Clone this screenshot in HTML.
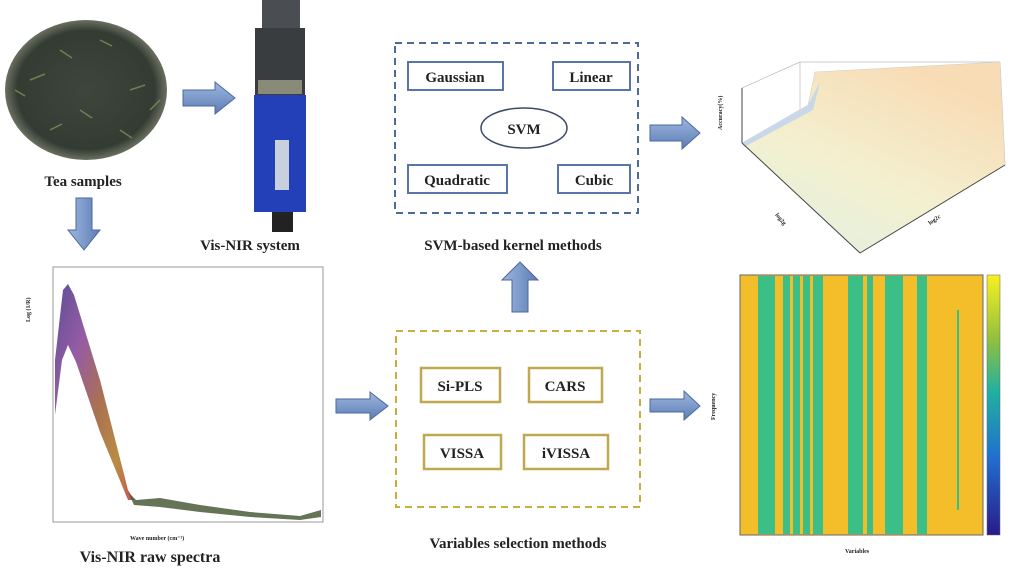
<!DOCTYPE html>
<html><head><meta charset="utf-8"><style>
html,body{margin:0;padding:0;background:#fff;}
svg{display:block;}
text{font-family:"Liberation Serif",serif;font-weight:bold;fill:#222;}
</style></head><body>
<svg width="1024" height="573" viewBox="0 0 1024 573" xmlns="http://www.w3.org/2000/svg">
<defs>
<radialGradient id="tea" cx="50%" cy="50%" r="50%">
<stop offset="0" stop-color="#3e463c"/><stop offset="0.85" stop-color="#343b33"/><stop offset="1" stop-color="#6a7060"/>
</radialGradient>
<linearGradient id="arr" x1="0" y1="0" x2="0" y2="1">
<stop offset="0" stop-color="#9fb6dc"/><stop offset="0.5" stop-color="#7d9acb"/><stop offset="1" stop-color="#5d7bb0"/>
</linearGradient>
<linearGradient id="arrv" x1="0" y1="0" x2="1" y2="0">
<stop offset="0" stop-color="#9fb6dc"/><stop offset="0.5" stop-color="#7d9acb"/><stop offset="1" stop-color="#5d7bb0"/>
</linearGradient>
<linearGradient id="surf" x1="0" y1="1" x2="0.6" y2="0">
<stop offset="0" stop-color="#dff0e6"/><stop offset="0.5" stop-color="#f3f0cf"/><stop offset="1" stop-color="#f8dcb6"/>
</linearGradient>
<linearGradient id="cbar" x1="0" y1="1" x2="0" y2="0">
<stop offset="0" stop-color="#2a1a8a"/><stop offset="0.3" stop-color="#2070d0"/><stop offset="0.55" stop-color="#20b0a0"/><stop offset="0.75" stop-color="#90c040"/><stop offset="1" stop-color="#f8f020"/>
</linearGradient>
<linearGradient id="spec" x1="0" y1="0" x2="1" y2="1">
<stop offset="0" stop-color="#4a3a8a"/><stop offset="0.3" stop-color="#8a4a9a"/><stop offset="0.55" stop-color="#a06040"/><stop offset="0.8" stop-color="#b08030"/><stop offset="1" stop-color="#c04040"/>
</linearGradient>
</defs>

<!-- Tea samples -->
<ellipse cx="86" cy="90" rx="81" ry="70" fill="url(#tea)"/>
<g stroke="#8a9a60" stroke-width="1.5" opacity="0.7">
<line x1="30" y1="80" x2="45" y2="74"/><line x1="60" y1="50" x2="72" y2="58"/><line x1="100" y1="40" x2="112" y2="46"/>
<line x1="130" y1="90" x2="145" y2="85"/><line x1="80" y1="110" x2="92" y2="118"/><line x1="50" y1="130" x2="62" y2="124"/>
<line x1="120" y1="130" x2="132" y2="138"/><line x1="15" y1="90" x2="25" y2="96"/><line x1="150" y1="110" x2="160" y2="100"/>
</g>
<text x="83" y="186" font-size="15" text-anchor="middle">Tea samples</text>

<!-- Vis-NIR device -->
<rect x="262" y="0" width="38" height="30" fill="#4a4e52"/>
<rect x="255" y="28" width="50" height="67" fill="#3a3d40"/>
<rect x="258" y="80" width="44" height="14" fill="#8a8a78"/>
<rect x="254" y="95" width="52" height="117" fill="#2440b8"/>
<rect x="275" y="140" width="14" height="50" fill="#c8d0e0"/>
<rect x="272" y="212" width="21" height="20" fill="#222"/>
<text x="250" y="250" font-size="15" text-anchor="middle">Vis-NIR system</text>

<!-- Arrows -->
<g fill="url(#arr)" stroke="#4a6aa0" stroke-width="1">
<polygon points="183,90 215,90 215,82 235,98 215,114 215,106 183,106"/>
<polygon points="336,399 370,399 370,392 388,406 370,420 370,413 336,413"/>
<polygon points="650,399 684,399 684,391 700,406 684,420 684,412 650,412"/>
<polygon points="650,125 682,125 682,117 700,133 682,149 682,141 650,141"/>
</g>
<g fill="url(#arrv)" stroke="#4a6aa0" stroke-width="1">
<polygon points="76,198 92,198 92,230 100,230 84,250 68,230 76,230"/>
<polygon points="512,312 528,312 528,280 538,280 520,262 502,280 512,280"/>
</g>

<!-- SVM box -->
<rect x="395" y="43" width="243" height="170" fill="none" stroke="#4d6a98" stroke-width="2" stroke-dasharray="7,5"/>
<g fill="#fff" stroke="#5874a8" stroke-width="2">
<rect x="408" y="62" width="95" height="28"/><rect x="553" y="62" width="77" height="28"/>
<rect x="408" y="165" width="99" height="28"/><rect x="558" y="165" width="72" height="28"/>
<ellipse cx="524" cy="128" rx="43" ry="20" stroke="#3a4a6a" stroke-width="1.5"/>
</g>
<text x="455" y="82" font-size="15" text-anchor="middle">Gaussian</text>
<text x="591" y="82" font-size="15" text-anchor="middle">Linear</text>
<text x="524" y="134" font-size="15" text-anchor="middle">SVM</text>
<text x="457" y="185" font-size="15" text-anchor="middle">Quadratic</text>
<text x="594" y="185" font-size="15" text-anchor="middle">Cubic</text>
<text x="513" y="250" font-size="15" text-anchor="middle">SVM-based kernel methods</text>

<!-- Variable selection box -->
<rect x="396" y="331" width="244" height="176" fill="none" stroke="#c8b040" stroke-width="2" stroke-dasharray="7,5"/>
<g fill="#fff" stroke="#c0a850" stroke-width="2.5">
<rect x="421" y="368" width="79" height="34"/><rect x="529" y="368" width="73" height="34"/>
<rect x="424" y="435" width="77" height="34"/><rect x="524" y="435" width="84" height="34"/>
</g>
<text x="460" y="391" font-size="15" text-anchor="middle">Si-PLS</text>
<text x="565" y="391" font-size="15" text-anchor="middle">CARS</text>
<text x="462" y="458" font-size="15" text-anchor="middle">VISSA</text>
<text x="566" y="458" font-size="15" text-anchor="middle">iVISSA</text>
<text x="518" y="548" font-size="15" text-anchor="middle">Variables selection methods</text>

<!-- Spectra -->
<rect x="53" y="267" width="270" height="255" fill="#fff" stroke="#999" stroke-width="1"/>
<path d="M55,360 L63,290 L68,284 L74,295 L100,380 L128,490 L134,500 L128,500 L100,432 L76,362 L68,345 L62,360 L55,415 Z" fill="url(#spec)" opacity="0.9"/>
<path d="M128,492 L136,500 L160,498 L200,505 L250,512 L300,516 L321,510 L321,517 L300,520 L250,517 L200,512 L160,507 L134,505 Z" fill="#4a5a3a" opacity="0.85"/>
<g font-size="5" fill="#666" font-weight="normal">
<text x="30" y="322" font-size="6" transform="rotate(-90 30 322)">Log (1/R)</text>
<text x="130" y="540" font-size="6">Wave number (cm⁻¹)</text>
</g>
<text x="150" y="562" font-size="16" text-anchor="middle">Vis-NIR raw spectra</text>

<!-- 3D surface -->
<g stroke="#bbb" stroke-width="0.7" fill="none">
<line x1="742" y1="88" x2="742" y2="143"/><line x1="742" y1="88" x2="800" y2="62"/><line x1="800" y1="62" x2="800" y2="118"/>
<line x1="800" y1="62" x2="1000" y2="62"/><line x1="1000" y1="62" x2="1005" y2="165"/>
</g>
<polygon points="742,143 808,105 815,72 1000,62 1005,165 860,253" fill="url(#surf)" stroke="#ccc" stroke-width="0.5"/>
<polygon points="742,143 808,105 820,82 813,110 746,146" fill="#c8d8e8"/>
<line x1="742" y1="143" x2="860" y2="253" stroke="#444" stroke-width="1"/>
<line x1="860" y1="253" x2="1005" y2="165" stroke="#444" stroke-width="1"/>
<line x1="742" y1="88" x2="742" y2="143" stroke="#444" stroke-width="1"/>
<g font-size="6" fill="#555" font-weight="normal">
<text x="775" y="215" transform="rotate(50 775 215)">log2g</text>
<text x="930" y="225" transform="rotate(-35 930 225)">log2c</text>
<text x="722" y="130" transform="rotate(-90 722 130)">Accuracy(%)</text>
</g>

<!-- Heatmap -->
<rect x="740" y="275" width="243" height="260" fill="#f4bd2a" stroke="#666" stroke-width="1"/>
<g fill="#3cbf86">
<rect x="758" y="276" width="17" height="258"/><rect x="783" y="276" width="7" height="258"/>
<rect x="793" y="276" width="7" height="258"/><rect x="803" y="276" width="7" height="258"/>
<rect x="813" y="276" width="10" height="258"/><rect x="848" y="276" width="15" height="258"/>
<rect x="867" y="276" width="6" height="258"/><rect x="885" y="276" width="18" height="258"/>
<rect x="917" y="276" width="10" height="258"/><rect x="957" y="310" width="2" height="200"/>
</g>
<rect x="987" y="275" width="13" height="260" fill="url(#cbar)" stroke="#666" stroke-width="0.5"/>
<g font-size="6" fill="#555" font-weight="normal">
<text x="715" y="420" transform="rotate(-90 715 420)">Frequency</text>
<text x="845" y="553">Variables</text>
</g>
</svg>
</body></html>
